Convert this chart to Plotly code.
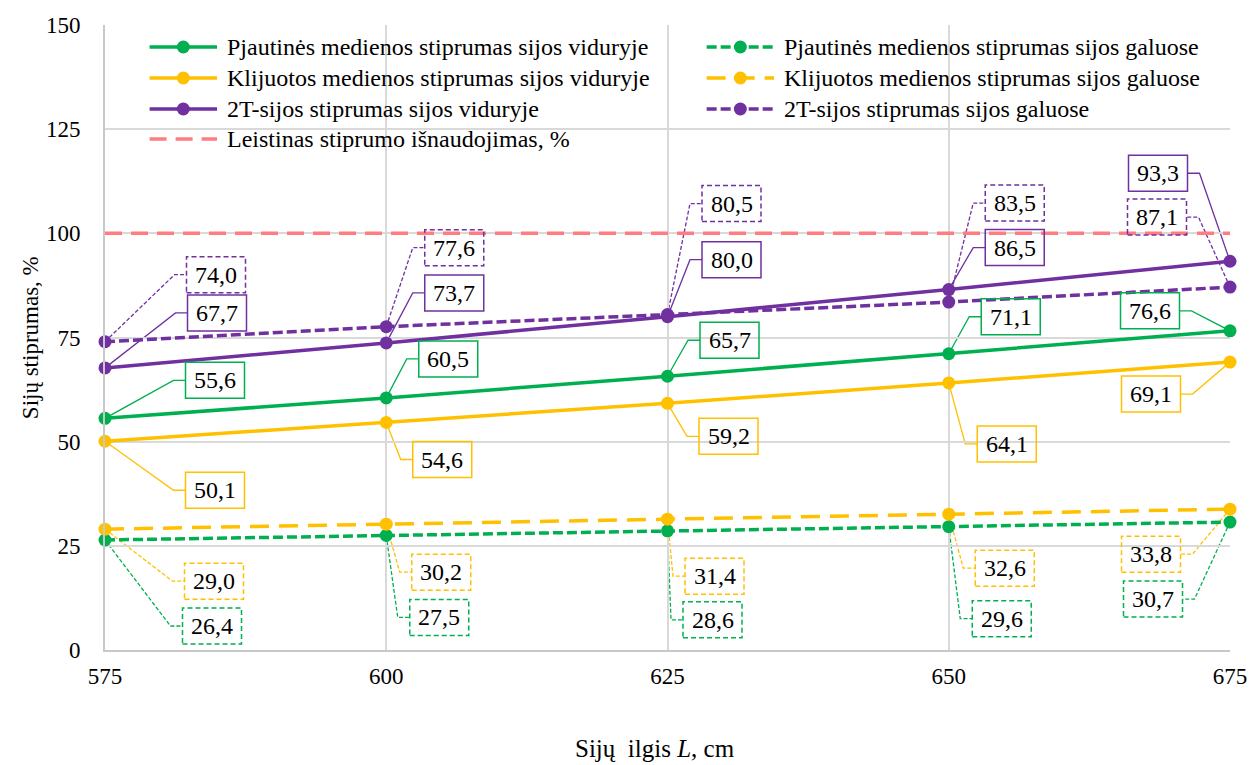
import plotly.graph_objects as go

# Beam length, cm
lengths = [575, 600, 625, 650, 675]

# Strength utilisation, % (middle of the beam)
sawn_mid = [55.6, 60.5, 65.7, 71.1, 76.6]
glulam_mid = [50.1, 54.6, 59.2, 64.1, 69.1]
ibeam_mid = [67.7, 73.7, 80.0, 86.5, 93.3]

# Strength utilisation, % (beam ends)
sawn_end = [26.4, 27.5, 28.6, 29.6, 30.7]
glulam_end = [29.0, 30.2, 31.4, 32.6, 33.8]
ibeam_end = [74.0, 77.6, 80.5, 83.5, 87.1]

# Allowed utilisation level, %
limit_value = 100

y_ticks = [0, 25, 50, 75, 100, 125, 150]
x_ticks = [575, 600, 625, 650, 675]

# Callout box centre offsets from each point, in pixels (dx right, dy down)
sawn_mid_off = [(110, -38), (62, -39), (62, -36), (62, -37), (-80, -20)]
glulam_mid_off = [(110, 49), (56, 37), (61, 33), (58, 61), (-79, 32)]
ibeam_mid_off = [(112, -55), (68, -50), (64, -57), (66, -42), (-72, -88)]
sawn_end_off = [(107, 86), (53, 82), (45, 89), (53, 92), (-77, 77)]
glulam_end_off = [(109, 52), (55, 48), (47, 57), (56, 54), (-79, 45)]
ibeam_end_off = [(111, -67), (68, -79), (64, -111), (66, -99), (-73, -70)]

GREEN = "#00B050"
YELLOW = "#FFC000"
PURPLE = "#7030A0"
RED = "#FF7C80"
GRID = "#D9D9D9"
FONT = "Times New Roman"

SHORT_DASH = "10px,4px"
LONG_DASH = "19px,10px"
LIMIT_DASH = "17px,9px"
LINE_W = 3.5
MARKER = 13

# name, values, colour, dash, legend column, legend row, callout offsets
series = [
    ("Pjautinės medienos stiprumas sijos viduryje", sawn_mid, GREEN, "solid", 0, 0, sawn_mid_off),
    ("Klijuotos medienos stiprumas sijos viduryje", glulam_mid, YELLOW, "solid", 0, 1, glulam_mid_off),
    ("2T-sijos stiprumas sijos viduryje", ibeam_mid, PURPLE, "solid", 0, 2, ibeam_mid_off),
    ("Pjautinės medienos stiprumas sijos galuose", sawn_end, GREEN, SHORT_DASH, 1, 0, sawn_end_off),
    ("Klijuotos medienos stiprumas sijos galuose", glulam_end, YELLOW, LONG_DASH, 1, 1, glulam_end_off),
    ("2T-sijos stiprumas sijos galuose", ibeam_end, PURPLE, SHORT_DASH, 1, 2, ibeam_end_off),
]
limit_name = "Leistinas stiprumo išnaudojimas, %"

# Plot area geometry (pixels) used for the in-plot legend
W, H = 1259, 765
M_L, M_R, M_T, M_B = 105, 19, 25, 115
PLOT_W = W - M_L - M_R
PLOT_H = H - M_T - M_B


def px_x(px):
    return (px - M_L) / PLOT_W


def px_y(py):
    return (H - M_B - py) / PLOT_H


def serif(size):
    return dict(family=FONT, size=size, color="black")


fig = go.Figure()

fig.add_trace(go.Scatter(
    x=lengths, y=[limit_value] * len(lengths), mode="lines", name=limit_name,
    line=dict(color=RED, width=LINE_W, dash=LIMIT_DASH), hoverinfo="skip",
))

for name, values, color, dash, col, row, _ in series:
    fig.add_trace(go.Scatter(
        x=lengths, y=values, mode="lines+markers", name=name,
        line=dict(color=color, width=LINE_W, dash=dash),
        marker=dict(size=MARKER, color=color), cliponaxis=False,
    ))

shapes = []
annotations = []

# Value callouts: framed label plus an elbow leader line back to the point
BOX_W, BOX_H, ELBOW = 59, 36, 12
for name, values, color, dash, col, row, offsets in series:
    dashed = dash != "solid"
    for x, v, (ox, oy) in zip(lengths, values, offsets):
        side = 1 if ox > 0 else -1
        edge = ox - side * BOX_W / 2
        elbow = edge - side * ELBOW
        common = dict(xref="x", yref="y", xsizemode="pixel", ysizemode="pixel",
                      xanchor=x, yanchor=v)
        shapes.append(dict(
            type="path", path=f"M0,0 L{elbow},{-oy} L{edge},{-oy}",
            line=dict(color=color, width=1.3, dash="4px,2px" if dashed else "solid"),
            layer="below", **common))
        shapes.append(dict(
            type="rect", x0=ox - BOX_W / 2, x1=ox + BOX_W / 2,
            y0=-oy - BOX_H / 2, y1=-oy + BOX_H / 2,
            line=dict(color=color, width=1.5, dash="5px,3px" if dashed else "solid"),
            fillcolor="rgba(0,0,0,0)", layer="above", **common))
        annotations.append(dict(
            x=x, y=v, xref="x", yref="y", showarrow=False,
            text=f"{v:.1f}".replace(".", ","), xshift=ox, yshift=-oy,
            xanchor="center", yanchor="middle", font=serif(24)))

# Two-column legend inside the plot: line sample, marker and label per row
LEG_COL_X = [150, 712]
LEG_ROW_Y = [47, 78, 109, 139]
SAMPLE_LEN = 68
TEXT_GAP = 8


def legend_entry(label, color, dash, col, row, marker):
    x0 = LEG_COL_X[col]
    y = LEG_ROW_Y[row]
    shapes.append(dict(
        type="line", xref="paper", yref="paper",
        x0=px_x(x0), x1=px_x(x0 + SAMPLE_LEN), y0=px_y(y), y1=px_y(y),
        line=dict(color=color, width=LINE_W, dash=dash), layer="above"))
    if marker:
        cx = px_x(x0 + SAMPLE_LEN / 2)
        shapes.append(dict(
            type="circle", xref="paper", yref="paper",
            xsizemode="pixel", ysizemode="pixel", xanchor=cx, yanchor=px_y(y),
            x0=-MARKER / 2, x1=MARKER / 2, y0=-MARKER / 2, y1=MARKER / 2,
            fillcolor=color, line=dict(width=0), layer="above"))
    annotations.append(dict(
        xref="paper", yref="paper", x=px_x(x0 + SAMPLE_LEN + TEXT_GAP), y=px_y(y),
        text=label, showarrow=False, xanchor="left", yanchor="middle",
        font=serif(24)))


for name, values, color, dash, col, row, _ in series:
    legend_entry(name, color, dash, col, row, True)
legend_entry(limit_name, RED, LIMIT_DASH, 0, 3, False)

# Axis titles
annotations.append(dict(
    xref="paper", yref="paper", x=px_x(660), y=px_y(748), showarrow=False,
    text="Sijų\u00a0 ilgis <i>L</i>, cm", xanchor="center", yanchor="middle",
    font=serif(25)))
annotations.append(dict(
    xref="paper", yref="paper", x=px_x(30), y=0.5, showarrow=False,
    text="Sijų stiprumas, %", textangle=-90, xanchor="center", yanchor="middle",
    font=serif(23)))

fig.update_layout(
    width=W, height=H,
    margin=dict(l=M_L, r=M_R, t=M_T, b=M_B),
    paper_bgcolor="white", plot_bgcolor="white",
    font=dict(family=FONT, color="black"),
    showlegend=False,
    shapes=shapes,
    annotations=annotations,
    xaxis=dict(
        range=[575, 675], tickvals=x_ticks, ticktext=[str(t) for t in x_ticks],
        tickfont=serif(23),
        showgrid=True, gridcolor=GRID, gridwidth=1.5,
        showline=True, linecolor="#C8C8C8", linewidth=2,
        zeroline=False, ticks="outside", ticklen=4, tickcolor="rgba(0,0,0,0)",
    ),
    yaxis=dict(
        range=[0, 150], tickvals=y_ticks, ticktext=[str(t) for t in y_ticks],
        tickfont=serif(23),
        showgrid=True, gridcolor=GRID, gridwidth=1.5,
        showline=True, linecolor="#C8C8C8", linewidth=2,
        zeroline=False, ticks="outside", ticklen=18, tickcolor="rgba(0,0,0,0)",
    ),
)

fig.write_html("out.html")
